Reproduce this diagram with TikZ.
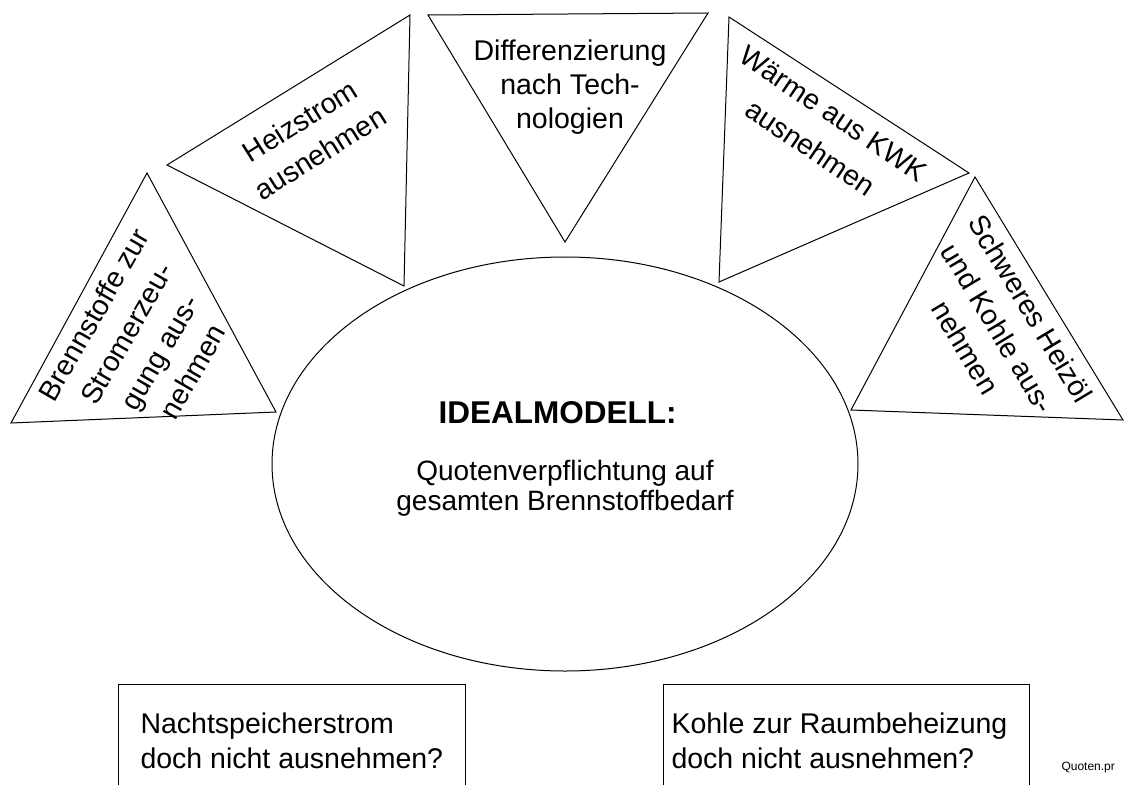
\documentclass[tikz,border=0pt]{standalone}
\usepackage{fontspec}
\setmainfont{Liberation Sans}
\begin{document}
\begin{tikzpicture}[x=1bp,y=-1bp,line width=1bp,
  tri/.style={draw=black,line join=miter},
  lbl/.style={align=center,inner sep=0pt,font=\fontsize{28.5bp}{38bp}\selectfont},
  qbox/.style={draw=black,anchor=north west,minimum height=130bp,inner sep=0pt},
  boxtext/.style={align=left,inner sep=0pt,anchor=north west,font=\fontsize{28.5bp}{35bp}\selectfont}]
\useasboundingbox (0,0) rectangle (1137,785);
\clip (0,0) rectangle (1137,785);
% triangles
\coordinate (a1) at (147,173); \coordinate (a2) at (11,423); \coordinate (a3) at (276,412);
\draw[tri] (a1) -- (a2) -- (a3) -- cycle;
\coordinate (b1) at (167,165); \coordinate (b2) at (410,15); \coordinate (b3) at (404,286);
\draw[tri] (b1) -- (b2) -- (b3) -- cycle;
\coordinate (c1) at (428,15); \coordinate (c2) at (708,13); \coordinate (c3) at (565,242);
\draw[tri] (c1) -- (c2) -- (c3) -- cycle;
\coordinate (d1) at (729,17); \coordinate (d2) at (969,173); \coordinate (d3) at (719,282);
\draw[tri] (d1) -- (d2) -- (d3) -- cycle;
\coordinate (e1) at (975,177); \coordinate (e2) at (851,410); \coordinate (e3) at (1123,420);
\draw[tri] (e1) -- (e2) -- (e3) -- cycle;
% triangle labels
\node[lbl,rotate=60] (ta) at (143,343) {Brennstoffe zur\\Stromerzeu-\\gung aus-\\nehmen};
\node[lbl,rotate=32] (tb) at (310,137) {Heizstrom\\ausnehmen};
\node[lbl,anchor=north,font=\fontsize{28.5bp}{34bp}\selectfont] (tc) at (570,39.5) {Differenzierung\\nach Tech-\\nologien};
\node[lbl,rotate=-34,font=\fontsize{28.5bp}{41bp}\selectfont] (td) at (822,131) {Wärme aus KWK\\ausnehmen};
\node[lbl,rotate=-59] (te) at (998,328) {Schweres Heizöl\\und Kohle aus-\\nehmen};
% ellipse
\coordinate (m) at (565,464);
\draw (m) ellipse [x radius=293bp,y radius=207bp];
\node[inner sep=0pt,anchor=base,font=\fontsize{31.5bp}{36bp}\selectfont\bfseries] (ideal) at (557.5,423) {IDEALMODELL:};
\node[align=center,inner sep=0pt,anchor=north,font=\fontsize{28bp}{29.5bp}\selectfont] (quote) at (565,460) {Quotenverpflichtung auf\\gesamten Brennstoffbedarf};
% boxes
\node[qbox,minimum width=347bp] (boxl) at (118,684) {};
\node[qbox,minimum width=366bp] (boxr) at (663,684) {};
\node[boxtext] (textl) at (140,712.6) {Nachtspeicherstrom\\doch nicht ausnehmen?};
\node[boxtext] (textr) at (671,712.6) {Kohle zur Raumbeheizung\\doch nicht ausnehmen?};
\node[inner sep=0pt,anchor=base west,font=\fontsize{12bp}{14bp}\selectfont] (file) at (1061,770.5) {Quoten.pr};
\end{tikzpicture}
\end{document}
